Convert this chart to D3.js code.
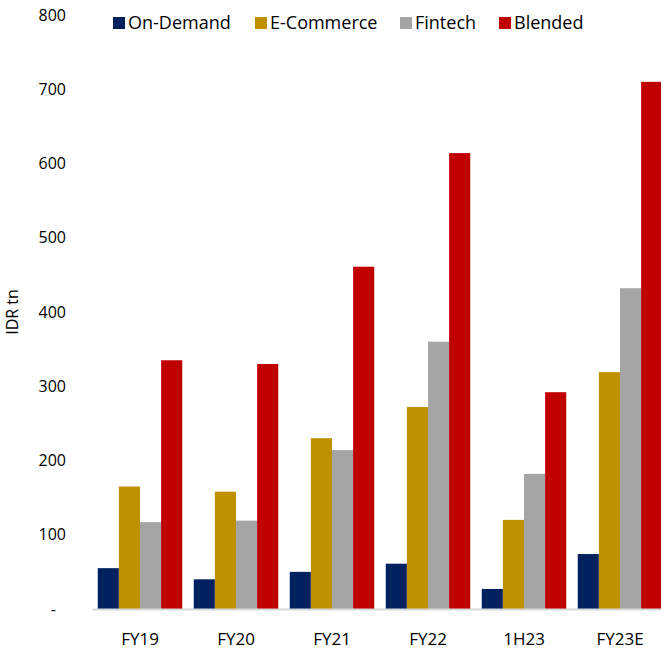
<!DOCTYPE html>
<html><head><meta charset="utf-8">
<script src="https://cdn.jsdelivr.net/npm/d3@7"></script>
<style>body{margin:0;background:#fff}text{font-family:"Open Sans",sans-serif;fill:#000}</style>
</head><body><svg id="c" width="661" height="649"></svg>
<script>
const categories = ["FY19","FY20","FY21","FY22","1H23","FY23E"];
const seriesNames = ["On-Demand","E-Commerce","Fintech","Blended"];
const onDemand  = [55, 40, 50, 61, 27, 74];
const eCommerce = [165, 158, 230, 272, 120, 319];
const fintech   = [117, 119, 214, 360, 182, 432];
const blended   = [335, 330, 461, 614, 292, 710];
const yTicks = [0,100,200,300,400,500,600,700,800];
const colors = ["#002060","#BF9000","#A5A5A5","#C00000"];
const seriesValues = [onDemand, eCommerce, fintech, blended];

const svg = d3.select("#c");
const x0 = d3.scaleBand().domain(categories).range([92, 668]).paddingInner(0.12).paddingOuter(0.06);
const x1 = d3.scaleBand().domain(seriesNames).range([0, x0.bandwidth()]);
const y = d3.scaleLinear().domain([0, 800]).range([609, 15]);

// y axis labels
const ya = svg.append("g").attr("transform","translate(66,0)")
  .call(d3.axisLeft(y).tickValues(yTicks).tickSize(0).tickPadding(0)
    .tickFormat(d => d === 0 ? "-" : d));
ya.select(".domain").remove();
ya.selectAll("text").style("font-size","16px").style("font-family","'Open Sans',sans-serif").attr("fill","#000");
ya.selectAll(".tick").filter(d => d===0).select("text").attr("dx", -10);

svg.append("text").attr("transform","translate(17.5,312) rotate(-90)")
  .attr("text-anchor","middle").style("font-size","16px").text("IDR tn");

// bars
const groups = svg.append("g").selectAll("g").data(categories).join("g")
  .attr("transform", d => `translate(${x0(d)},0)`);
groups.selectAll("rect").data((c,i) => seriesNames.map((s,j) => ({s, v: seriesValues[j][i], j})))
  .join("rect")
  .attr("x", d => x1(d.s)).attr("width", x1.bandwidth())
  .attr("y", d => y(d.v)).attr("height", d => y(0) - y(d.v))
  .attr("fill", d => colors[d.j]);

// x axis
const xa = svg.append("g").attr("transform","translate(0,609)")
  .call(d3.axisBottom(x0).tickSize(0).tickPadding(0));
xa.select(".domain").attr("stroke","#d9d9d9").attr("stroke-width",2);
xa.selectAll("text").attr("dy",null).attr("y",36).style("font-size","17px").style("font-family","'Open Sans',sans-serif").attr("fill","#000");

// legend
const legX = [113, 255, 400, 499];
const leg = svg.append("g").selectAll("g").data(seriesNames).join("g")
  .attr("transform",(d,i)=>`translate(${legX[i]},17)`);
leg.append("rect").attr("width",12).attr("height",12).attr("fill",(d,i)=>colors[i]);
leg.append("text").attr("x",15).attr("y",12.3).style("font-size","18px").text(d=>d);
</script></body></html>
